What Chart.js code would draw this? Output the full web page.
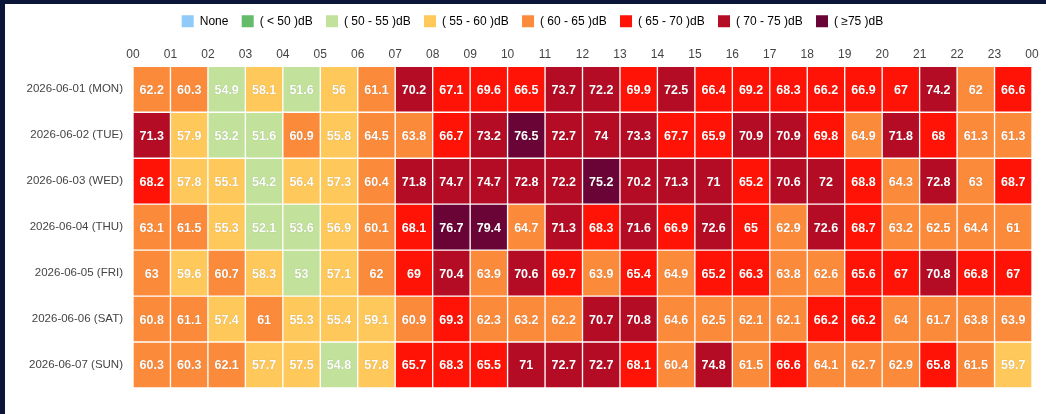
<!DOCTYPE html>
<html><head><meta charset="utf-8">
<script src="https://cdn.jsdelivr.net/npm/chart.js@4.4.1/dist/chart.umd.min.js"></script>
<style>
html,body{margin:0;padding:0;background:#fff;}
#wrap{width:1046px;height:414px;box-sizing:border-box;border-top:4px solid #0b1538;border-left:5px solid #0b1538;background:#fff;}
#wrap canvas{display:block;}
</style></head>
<body><div id="wrap"><canvas id="c" width="1041" height="410"></canvas></div>
<script>
const days = ['2026-06-01 (MON)','2026-06-02 (TUE)','2026-06-03 (WED)','2026-06-04 (THU)','2026-06-05 (FRI)','2026-06-06 (SAT)','2026-06-07 (SUN)'];
const hourLabels = ['00','01','02','03','04','05','06','07','08','09','10','11','12','13','14','15','16','17','18','19','20','21','22','23','00'];
const mon = [62.2,60.3,54.9,58.1,51.6,56,61.1,70.2,67.1,69.6,66.5,73.7,72.2,69.9,72.5,66.4,69.2,68.3,66.2,66.9,67,74.2,62,66.6];
const tue = [71.3,57.9,53.2,51.6,60.9,55.8,64.5,63.8,66.7,73.2,76.5,72.7,74,73.3,67.7,65.9,70.9,70.9,69.8,64.9,71.8,68,61.3,61.3];
const wed = [68.2,57.8,55.1,54.2,56.4,57.3,60.4,71.8,74.7,74.7,72.8,72.2,75.2,70.2,71.3,71,65.2,70.6,72,68.8,64.3,72.8,63,68.7];
const thu = [63.1,61.5,55.3,52.1,53.6,56.9,60.1,68.1,76.7,79.4,64.7,71.3,68.3,71.6,66.9,72.6,65,62.9,72.6,68.7,63.2,62.5,64.4,61];
const fri = [63,59.6,60.7,58.3,53,57.1,62,69,70.4,63.9,70.6,69.7,63.9,65.4,64.9,65.2,66.3,63.8,62.6,65.6,67,70.8,66.8,67];
const sat = [60.8,61.1,57.4,61,55.3,55.4,59.1,60.9,69.3,62.3,63.2,62.2,70.7,70.8,64.6,62.5,62.1,62.1,66.2,66.2,64,61.7,63.8,63.9];
const sun = [60.3,60.3,62.1,57.7,57.5,54.8,57.8,65.7,68.3,65.5,71,72.7,72.7,68.1,60.4,74.8,61.5,66.6,64.1,62.7,62.9,65.8,61.5,59.7];
const values = [mon,tue,wed,thu,fri,sat,sun];
const bandLabels = ['None','( < 50 )dB','( 50 - 55 )dB','( 55 - 60 )dB','( 60 - 65 )dB','( 65 - 70 )dB','( 70 - 75 )dB','( \u226575 )dB'];
const bandColors = ['#90caf9','#66bb6a','#c2e29c','#fec85a','#fb8b3a','#fe1306','#b50c25','#6a0437'];
const bandLimits = [50,55,60,65,70,75];

function colorFor(v){
  if (v === null || v === undefined) return bandColors[0];
  for (let k = 0; k < bandLimits.length; k++) if (v < bandLimits[k]) return bandColors[k+1];
  return bandColors[7];
}

const datasets = hourLabels.slice(0,24).map((h,i)=>({
  label: h,
  data: values.map(()=>[i, i+1]),
  backgroundColor: values.map(r=>colorFor(r[i])),
  borderColor: 'rgba(255,255,255,0.28)',
  borderWidth: 1,
  borderSkipped: false,
  grouped: false,
  barPercentage: 1,
  categoryPercentage: 1
}));

const cellLabels = {
  id: 'cellLabels',
  afterDatasetsDraw(chart){
    const ctx = chart.ctx;
    ctx.save();
    ctx.font = 'bold 12.5px "Liberation Sans", Arial, sans-serif';
    ctx.textAlign = 'center';
    ctx.textBaseline = 'middle';
    ctx.fillStyle = '#ffffff';
    chart.data.datasets.forEach((ds,i)=>{
      const meta = chart.getDatasetMeta(i);
      meta.data.forEach((el,j)=>{
        const p = el.getCenterPoint();
        const v = values[j][i];
        ctx.shadowColor = 'rgba(0,0,0,0.25)';
        ctx.shadowBlur = 1;
        ctx.fillText(String(v), p.x, p.y + 1);
      });
    });
    ctx.restore();
  }
};

const legendShift = {
  id: 'legendShift',
  afterLayout(chart){
    const lg = chart.legend;
    if (lg) { lg.left += 14; lg.right += 14; lg.top -= 2; lg.bottom -= 2; }
  }
};

new Chart(document.getElementById('c'), {
  type: 'bar',
  data: { labels: days, datasets },
  options: {
    indexAxis: 'y',
    responsive: false,
    animation: false,
    devicePixelRatio: 1,
    layout: { padding: { left: 0, right: 14, top: 0, bottom: 26 } },
    plugins: {
      tooltip: { enabled: false },
      legend: {
        position: 'top',
        onClick: null,
        labels: {
          boxWidth: 12, boxHeight: 12, padding: 13.3,
          color: '#555',
          font: { family: '"Liberation Sans", Arial, sans-serif', size: 12 },
          generateLabels: () => bandLabels.map((t,k)=>({text: t, fillStyle: bandColors[k], strokeStyle: bandColors[k], lineWidth: 0, hidden: false, datasetIndex: k}))
        }
      }
    },
    scales: {
      x: {
        type: 'linear', position: 'top', min: 0, max: 24,
        grid: { display: false, drawTicks: false }, border: { display: false },
        ticks: {
          stepSize: 1, autoSkip: false, maxRotation: 0, padding: 4,
          color: '#444',
          font: { family: '"Liberation Sans", Arial, sans-serif', size: 12 },
          callback: (v) => hourLabels[v]
        },
        afterFit: (s) => { s.height = 27; }
      },
      y: {
        type: 'category', offset: true,
        grid: { display: false, drawTicks: false }, border: { display: false },
        ticks: {
          color: '#444', padding: 10,
          font: { family: '"Liberation Sans", Arial, sans-serif', size: 11.5 }
        },
        afterFit: (s) => { s.width = 128; }
      }
    }
  },
  plugins: [cellLabels, legendShift]
});
</script>
</body></html>
